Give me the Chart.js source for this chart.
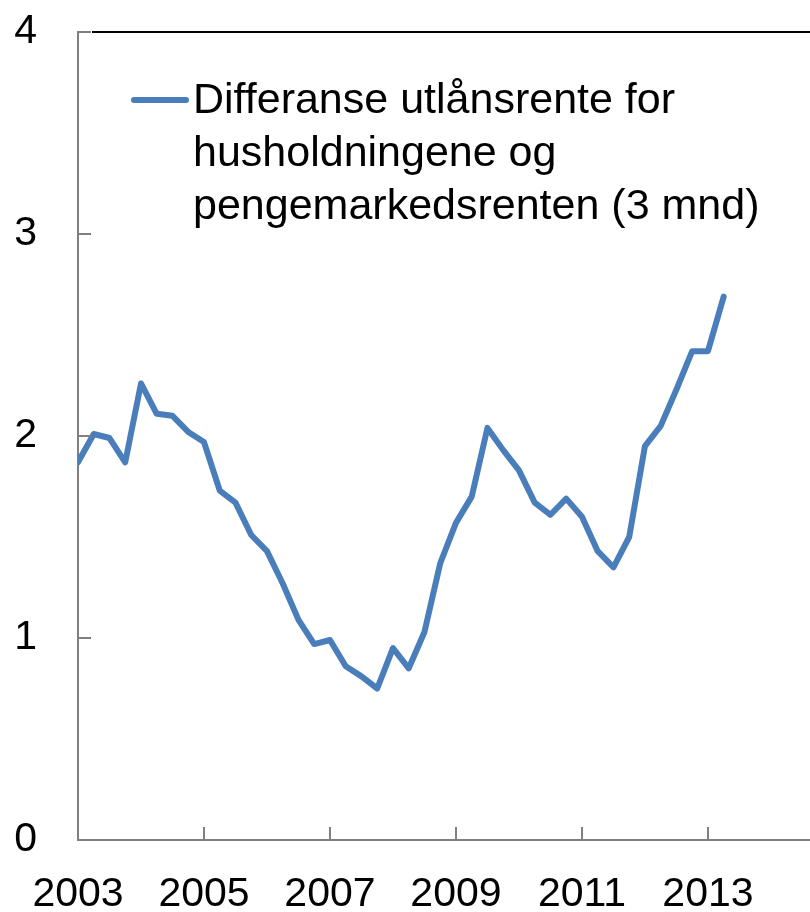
<!DOCTYPE html>
<html>
<head>
<meta charset="utf-8">
<script src="https://cdn.jsdelivr.net/npm/chart.js@4"></script>
<style>
  html, body { margin: 0; padding: 0; background: #fff; }
  canvas { display: block; }
</style>
</head>
<body>
<canvas id="spread" width="810" height="912"></canvas>
<script>
// Quarterly observations, 2003 Q1 - 2013 Q2
const quarters = [
  '2003K1','2003K2','2003K3','2003K4','2004K1','2004K2','2004K3','2004K4',
  '2005K1','2005K2','2005K3','2005K4','2006K1','2006K2','2006K3','2006K4',
  '2007K1','2007K2','2007K3','2007K4','2008K1','2008K2','2008K3','2008K4',
  '2009K1','2009K2','2009K3','2009K4','2010K1','2010K2','2010K3','2010K4',
  '2011K1','2011K2','2011K3','2011K4','2012K1','2012K2','2012K3','2012K4',
  '2013K1','2013K2'
];
const spread = [
  1.87, 2.01, 1.99, 1.87, 2.26, 2.11, 2.10, 2.02,
  1.97, 1.73, 1.67, 1.51, 1.43, 1.27, 1.09, 0.97,
  0.99, 0.86, 0.81, 0.75, 0.95, 0.85, 1.03, 1.37,
  1.57, 1.70, 2.04, 1.93, 1.83, 1.67, 1.61, 1.69,
  1.60, 1.43, 1.35, 1.50, 1.95, 2.05, 2.23, 2.42,
  2.42, 2.69
];
const xTicks = [2003, 2005, 2007, 2009, 2011, 2013];
const yTicks = [0, 1, 2, 3, 4];
const legendLines = ['Differanse utlånsrente for', 'husholdningene og', 'pengemarkedsrenten (3 mnd)'];

const FONT = "'Liberation Sans', Arial, sans-serif";
const LINE = '#4a7ebb';
const AXIS = '#808080';

function quarterToX(q) {
  return Number(q.slice(0, 4)) + (Number(q.slice(5)) - 1) / 4;
}

// inward tick marks, top frame line and the in-plot legend
const decorations = {
  id: 'decorations',
  afterDatasetsDraw(chart) {
    const { ctx, chartArea: a, scales: { x, y } } = chart;
    ctx.save();
    ctx.strokeStyle = AXIS;
    ctx.lineWidth = 2;
    yTicks.forEach(v => {
      const py = Math.round(y.getPixelForValue(v));
      ctx.beginPath(); ctx.moveTo(a.left, py); ctx.lineTo(a.left + 13, py); ctx.stroke();
    });
    xTicks.slice(1).forEach(v => {
      const px = Math.round(x.getPixelForValue(v));
      ctx.beginPath(); ctx.moveTo(px, a.bottom); ctx.lineTo(px, a.bottom - 13); ctx.stroke();
    });
    ctx.strokeStyle = '#000';
    ctx.beginPath(); ctx.moveTo(a.left + 14, a.top); ctx.lineTo(a.right, a.top); ctx.stroke();

    const ds = chart.data.datasets[0];
    ctx.strokeStyle = ds.borderColor;
    ctx.lineWidth = 6;
    ctx.lineCap = 'round';
    ctx.beginPath(); ctx.moveTo(134, 100); ctx.lineTo(186, 100); ctx.stroke();
    ctx.fillStyle = '#000';
    ctx.font = '43px ' + FONT;
    ctx.textBaseline = 'alphabetic';
    legendLines.forEach((t, i) => ctx.fillText(t, 193, 113 + i * 53));
    ctx.restore();
  }
};

function noPad(s) {
  s.paddingTop = 0; s.paddingBottom = 0; s.paddingLeft = 0; s.paddingRight = 0;
}

new Chart(document.getElementById('spread'), {
  type: 'line',
  data: {
    datasets: [{
      label: legendLines.join(' '),
      data: quarters.map((q, i) => ({ x: quarterToX(q), y: spread[i] })),
      borderColor: LINE,
      borderWidth: 6,
      borderCapStyle: 'round',
      borderJoinStyle: 'round',
      pointRadius: 0,
      tension: 0,
      fill: false
    }]
  },
  options: {
    responsive: false,
    animation: false,
    layout: { padding: { top: 32, right: 0, left: 0, bottom: 0 } },
    plugins: { legend: { display: false }, tooltip: { enabled: false } },
    scales: {
      x: {
        type: 'linear',
        min: 2003,
        max: 2014.62,
        afterBuildTicks: s => { s.ticks = xTicks.map(v => ({ value: v })); },
        afterFit: s => { s.height = 72; noPad(s); },
        grid: { display: false, drawTicks: false },
        border: { display: true, color: AXIS, width: 2 },
        ticks: {
          autoSkip: false, maxRotation: 0, padding: 30,
          color: '#000', font: { family: FONT, size: 41 },
          callback: v => String(v)
        }
      },
      y: {
        min: 0,
        max: 4,
        afterBuildTicks: s => { s.ticks = yTicks.map(v => ({ value: v })); },
        afterFit: s => { s.width = 78; noPad(s); },
        grid: { display: false, drawTicks: false },
        border: { display: true, color: AXIS, width: 2 },
        ticks: {
          padding: 41,
          color: '#000', font: { family: FONT, size: 41 },
          callback: v => String(v)
        }
      }
    }
  },
  plugins: [decorations]
});
</script>
</body>
</html>
